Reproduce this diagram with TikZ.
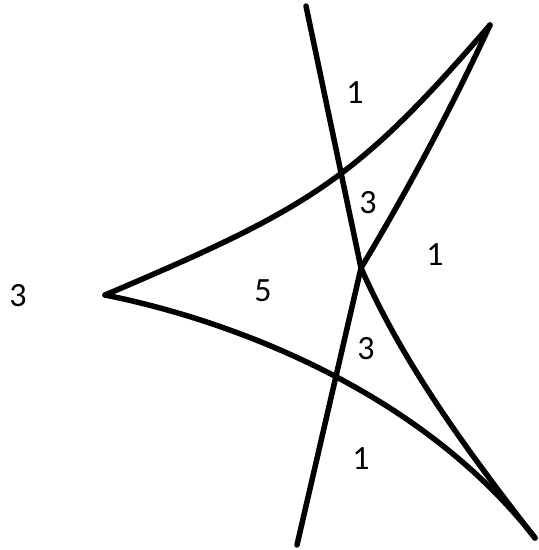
\documentclass[tikz,border=0pt]{standalone}
\usepackage{fontspec}
\setmainfont{Carlito}
\tikzset{curve/.style={line width=5.5pt,line cap=round,line join=round},
  region/.style={inner sep=0pt,font=\fontsize{34}{40}\selectfont}}

\begin{document}
\begin{tikzpicture}[x=1pt,y=-1pt]
\useasboundingbox (0,0) rectangle (539,550);
% cusps and crossing
\coordinate (L) at (105,295);
\coordinate (T) at (490,25);
\coordinate (B) at (535,538);
\coordinate (X) at (361,268);
\coordinate (Atop) at (306,6);
\coordinate (Bbot) at (297,545);
% the three edges
\draw[curve] (L) .. controls (312,207) and (356,180) .. (T);
\draw[curve] (L) .. controls (230,320) and (420,390) .. (B);
\draw[curve] (Atop) -- (X) .. controls (401,358) and (457,438) .. (B);
\draw[curve] (T) .. controls (452,107) and (409,188) .. (X) -- (Bbot);
% numbers of the regions
\foreach \xx/\yy/\lab/\nm in {355/93/1/ra,368/203/3/rb,435/255/1/rc,18/296/3/rd,263/291/5/re,366/349/3/rf,361/459/1/rg}{
  \node[region] (\nm) at (\xx,\yy) {\lab};}
\end{tikzpicture}
\end{document}
